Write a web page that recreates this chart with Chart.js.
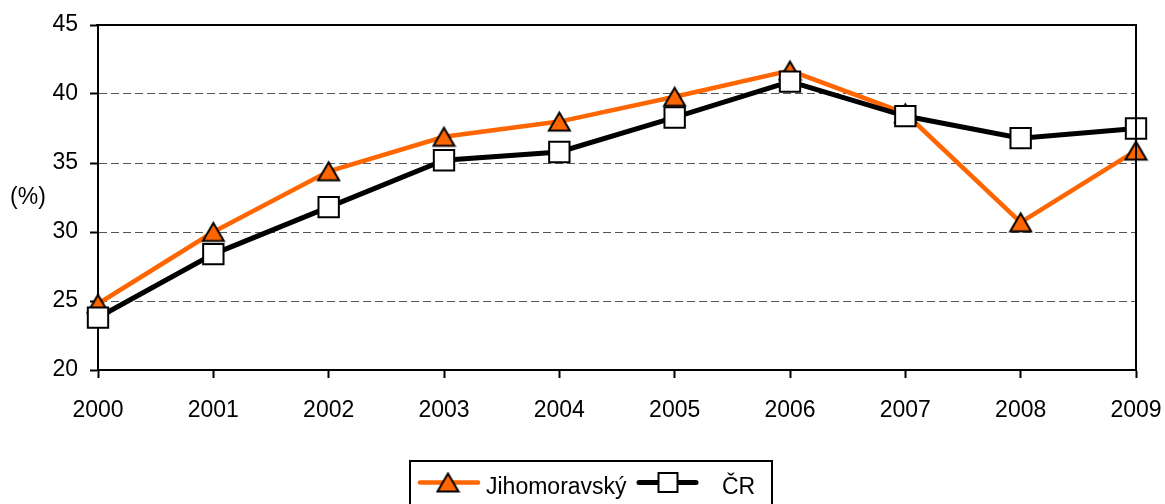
<!DOCTYPE html>
<html>
<head>
<meta charset="utf-8">
<script src="https://cdn.jsdelivr.net/npm/chart.js@4.4.1/dist/chart.umd.min.js"></script>
<style>
  html, body { margin: 0; padding: 0; background: #fff; }
  #wrap { width: 1165px; height: 504px; position: relative; }
</style>
</head>
<body>
<div id="wrap"><canvas id="c"></canvas></div>
<script>
// ---- data ----
const years = ['2000', '2001', '2002', '2003', '2004', '2005', '2006', '2007', '2008', '2009'];
const jihomoravsky = [24.8, 30.0, 34.4, 36.9, 38.0, 39.8, 41.7, 38.6, 30.7, 35.9];
const cr = [23.8, 28.4, 31.8, 35.2, 35.8, 38.3, 40.9, 38.4, 36.8, 37.5];
const seriesNames = ['Jihomoravský', 'ČR'];
const yMin = 20, yMax = 45, yStep = 5;
const yTitle = '(%)';

// ---- font detection (narrow Arial-like font if available) ----
function hasFont(name) {
  const c = document.createElement('canvas').getContext('2d');
  const s = '2001 Jihomoravský ČR 45';
  c.font = '40px monospace';
  const a = c.measureText(s).width;
  c.font = '40px "' + name + '", monospace';
  const b = c.measureText(s).width;
  return Math.abs(a - b) > 1;
}
let family, tickSize, legendSize, titleSize;
if (hasFont('Liberation Sans Narrow')) {
  family = '"Liberation Sans Narrow"'; tickSize = 25; legendSize = 27; titleSize = 25;
} else if (hasFont('Arial Narrow')) {
  family = '"Arial Narrow"'; tickSize = 25; legendSize = 27; titleSize = 25;
} else {
  family = '"Liberation Sans", Arial, sans-serif'; tickSize = 23; legendSize = 23; titleSize = 23;
}

const ORANGE = '#FF6600';

// triangle marker image with bbox centred on the point
function triangleImage(w, h) {
  const cv = document.createElement('canvas');
  cv.width = w + 4; cv.height = h + 4;
  const g = cv.getContext('2d');
  const cx = cv.width / 2;
  g.beginPath();
  g.moveTo(cx, 2.5);
  g.lineTo(cv.width - 2, cv.height - 2.5);
  g.lineTo(2, cv.height - 2.5);
  g.closePath();
  g.fillStyle = ORANGE;
  g.fill();
  g.lineWidth = 2;
  g.lineJoin = 'miter';
  g.strokeStyle = '#000';
  g.stroke();
  return cv;
}
const triImg = triangleImage(21, 19);

const decorPlugin = {
  id: 'decor',
  afterDraw(chart) {
    const ctx = chart.ctx;
    const a = chart.chartArea;
    ctx.save();
    // plot border top + right
    ctx.strokeStyle = '#000';
    ctx.lineWidth = 2;
    ctx.beginPath();
    ctx.moveTo(a.left - 2, a.top);
    ctx.lineTo(a.right, a.top);
    ctx.lineTo(a.right, a.bottom);
    ctx.stroke();
    // y title
    ctx.fillStyle = '#000';
    ctx.font = titleSize + 'px ' + family;
    ctx.textAlign = 'center';
    ctx.textBaseline = 'middle';
    ctx.fillText(yTitle, 28, (a.top + a.bottom) / 2);
    // legend box
    ctx.lineWidth = 2;
    ctx.strokeStyle = '#000';
    ctx.strokeRect(410, 461, 362, 80);
    const ly = 482.5;
    // series 1 symbol
    ctx.lineCap = 'round';
    ctx.strokeStyle = ORANGE;
    ctx.lineWidth = 4.5;
    ctx.beginPath(); ctx.moveTo(420, ly); ctx.lineTo(478, ly); ctx.stroke();
    ctx.drawImage(triImg, 448 - triImg.width / 2, ly - triImg.height / 2);
    // series 2 symbol
    ctx.strokeStyle = '#000';
    ctx.lineWidth = 5;
    ctx.beginPath(); ctx.moveTo(639, ly); ctx.lineTo(696, ly); ctx.stroke();
    ctx.fillStyle = '#fff';
    ctx.lineWidth = 2;
    ctx.fillRect(658.5, ly - 9.5, 19, 19);
    ctx.strokeRect(658.5, ly - 9.5, 19, 19);
    // legend texts
    ctx.fillStyle = '#000';
    ctx.font = legendSize + 'px ' + family;
    ctx.textAlign = 'left';
    ctx.textBaseline = 'alphabetic';
    ctx.fillText(seriesNames[0], 486, 493.5);
    ctx.fillText(seriesNames[1], 722, 493.5);
    ctx.restore();
  }
};

const tickFont = { family: family, size: tickSize };

new Chart(document.getElementById('c'), {
  type: 'line',
  data: {
    labels: years,
    datasets: [
      {
        label: seriesNames[0],
        data: jihomoravsky,
        borderColor: ORANGE,
        borderWidth: 4.5,
        tension: 0,
        pointStyle: triImg,
        pointRadius: 12,
        pointHoverRadius: 12,
        clip: false,
        order: 2
      },
      {
        label: seriesNames[1],
        data: cr,
        borderColor: '#000',
        borderWidth: 5,
        tension: 0,
        pointStyle: 'rect',
        pointRadius: 14.4,
        pointHoverRadius: 14.4,
        pointBackgroundColor: '#fff',
        pointBorderColor: '#000',
        pointBorderWidth: 2,
        clip: false,
        order: 1
      }
    ]
  },
  options: {
    responsive: true,
    maintainAspectRatio: false,
    animation: false,
    events: [],
    layout: { padding: { left: 0, right: 29, top: 25, bottom: 74 } },
    plugins: { legend: { display: false }, tooltip: { enabled: false }, title: { display: false } },
    scales: {
      x: {
        type: 'category',
        offset: false,
        grid: { drawOnChartArea: false, drawTicks: true, tickLength: 8, tickWidth: 2, tickColor: '#000', color: '#000' },
        border: { display: true, color: '#000', width: 2 },
        ticks: { font: tickFont, color: '#000', padding: 19, maxRotation: 0, autoSkip: false },
        afterFit: (s) => { s.height = 60; s.paddingLeft = 0; s.paddingRight = 0; }
      },
      y: {
        min: yMin,
        max: yMax,
        grid: {
          color: (c) => (c.tick && (c.tick.value === yMin || c.tick.value === yMax)) ? 'rgba(0,0,0,0)' : '#555',
          lineWidth: 1,
          drawTicks: true,
          tickLength: 8,
          tickWidth: 2,
          tickColor: '#000'
        },
        border: { display: true, color: '#000', width: 2, dash: [8, 4] },
        ticks: { stepSize: yStep, font: tickFont, color: '#000', padding: 12 },
        afterFit: (s) => { s.width = 98; s.paddingTop = 0; s.paddingBottom = 0; }
      }
    }
  },
  plugins: [decorPlugin]
});
</script>
</body>
</html>
